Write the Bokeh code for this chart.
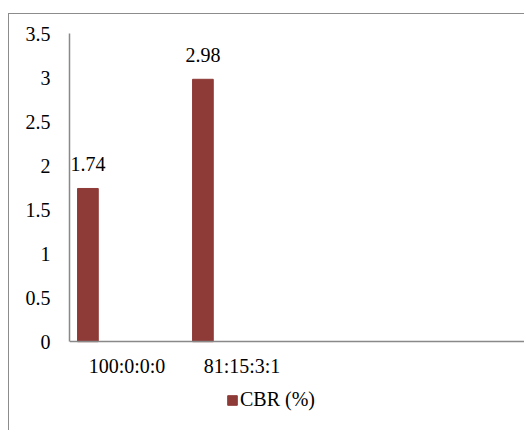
from bokeh.plotting import figure
from bokeh.models import Range1d, FixedTicker, NumeralTickFormatter, Legend, LegendItem, ColumnDataSource
from bokeh.core.properties import value
from bokeh.embed import file_html
from bokeh.resources import INLINE

categories = ["100:0:0:0", "81:15:3:1"]
cbr_values = [1.74, 2.98]
value_labels = ["1.74", "2.98"]
series_name = "CBR (%)"
y_ticks = [0, 0.5, 1, 1.5, 2, 2.5, 3, 3.5]

FONT = "'Liberation Serif', 'Times New Roman', serif"
FS = "20px"
BAR = "#8E3A37"
AXIS = "#898989"

n_slots = 3.965
bar_offset = -0.34
bar_width = 0.18
y_top = 3.5
y_bottom = -1.02   # room under the axis for the legend

xs = [i + 0.5 + bar_offset for i in range(len(categories))]
src = ColumnDataSource(dict(x=xs, top=cbr_values, lab=value_labels))

p = figure(width=516, height=417, output_backend="svg", toolbar_location=None,
           x_range=Range1d(0, n_slots), y_range=Range1d(y_bottom, y_top),
           min_border_left=60, min_border_right=0, min_border_top=19, min_border_bottom=0)
p.styles = {"margin-top": "13px", "margin-left": "8px",
            "border-top": "1.5px solid #8c8c8c", "border-left": "1.5px solid #8c8c8c"}
p.outline_line_color = None
p.grid.visible = False

bars = p.vbar(x="x", top="top", width=bar_width, source=src, fill_color=BAR, line_color=BAR)
p.text(x="x", y="top", text="lab", source=src, text_font=value(FONT), text_font_size=FS,
       text_align="center", text_baseline="middle", y_offset=-24, text_color="#000000")

p.xaxis.fixed_location = 0
p.xaxis.ticker = FixedTicker(ticks=[i + 0.5 for i in range(len(categories))])
p.xaxis.major_label_overrides = {i + 0.5: c for i, c in enumerate(categories)}
p.yaxis.ticker = FixedTicker(ticks=y_ticks)
p.yaxis.formatter = NumeralTickFormatter(format="0.[0]")
p.yaxis.bounds = (0, y_top)

for ax in (p.xaxis, p.yaxis):
    ax.axis_line_color = AXIS
    ax.axis_line_width = 1.5
    ax.major_tick_line_color = None
    ax.minor_tick_line_color = None
    ax.major_label_text_font = FONT
    ax.major_label_text_font_size = FS
    ax.major_label_text_color = "#000000"
p.yaxis.major_label_standoff = 13
p.xaxis.major_label_standoff = 7

legend = Legend(items=[LegendItem(label=series_name, renderers=[bars])], location=(157, 20),
                orientation="horizontal", padding=0, margin=0, border_line_color=None,
                background_fill_alpha=0, glyph_width=12, glyph_height=12, label_standoff=2,
                label_text_font=FONT, label_text_font_size=FS, label_text_color="#000000")
p.add_layout(legend, "center")

open("out.html", "w").write(file_html(p, INLINE))
